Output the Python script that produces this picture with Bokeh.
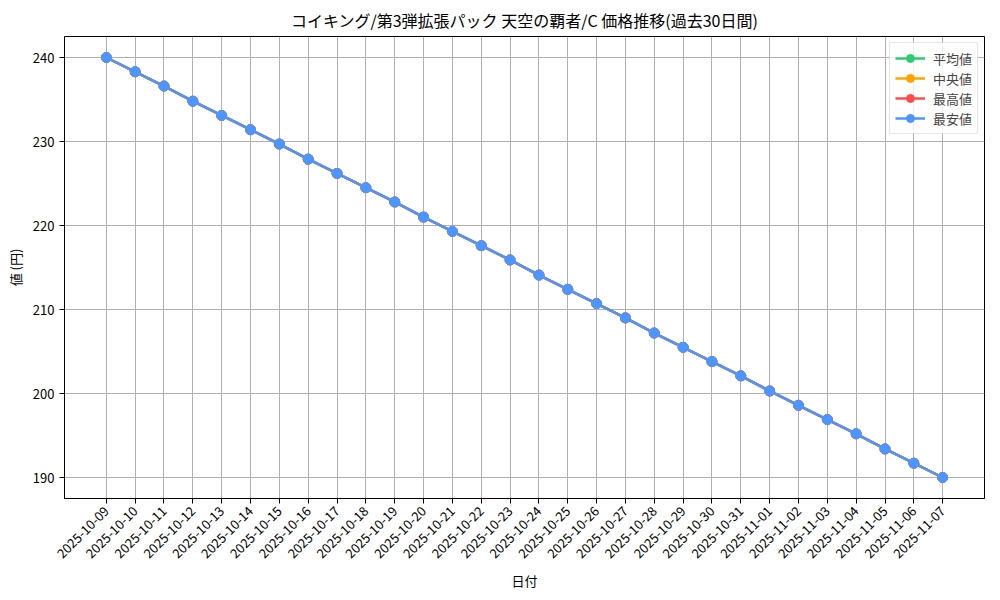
import math
from bokeh.plotting import figure
from bokeh.models import Range1d, FixedTicker, Legend, LegendItem
from bokeh.embed import file_html
from bokeh.resources import INLINE

dates = ["2025-10-09", "2025-10-10", "2025-10-11", "2025-10-12", "2025-10-13",
         "2025-10-14", "2025-10-15", "2025-10-16", "2025-10-17", "2025-10-18",
         "2025-10-19", "2025-10-20", "2025-10-21", "2025-10-22", "2025-10-23",
         "2025-10-24", "2025-10-25", "2025-10-26", "2025-10-27", "2025-10-28",
         "2025-10-29", "2025-10-30", "2025-10-31", "2025-11-01", "2025-11-02",
         "2025-11-03", "2025-11-04", "2025-11-05", "2025-11-06", "2025-11-07"]

avg_price = [240.0, 238.3, 236.6, 234.8, 233.1, 231.4, 229.7, 227.9, 226.2, 224.5,
             222.8, 221.0, 219.3, 217.6, 215.9, 214.1, 212.4, 210.7, 209.0, 207.2,
             205.5, 203.8, 202.1, 200.3, 198.6, 196.9, 195.2, 193.4, 191.7, 190.0]
median_price = [240.0, 238.3, 236.6, 234.8, 233.1, 231.4, 229.7, 227.9, 226.2, 224.5,
                222.8, 221.0, 219.3, 217.6, 215.9, 214.1, 212.4, 210.7, 209.0, 207.2,
                205.5, 203.8, 202.1, 200.3, 198.6, 196.9, 195.2, 193.4, 191.7, 190.0]
max_price = [240.0, 238.3, 236.6, 234.8, 233.1, 231.4, 229.7, 227.9, 226.2, 224.5,
             222.8, 221.0, 219.3, 217.6, 215.9, 214.1, 212.4, 210.7, 209.0, 207.2,
             205.5, 203.8, 202.1, 200.3, 198.6, 196.9, 195.2, 193.4, 191.7, 190.0]
min_price = [240.0, 238.3, 236.6, 234.8, 233.1, 231.4, 229.7, 227.9, 226.2, 224.5,
             222.8, 221.0, 219.3, 217.6, 215.9, 214.1, 212.4, 210.7, 209.0, 207.2,
             205.5, 203.8, 202.1, 200.3, 198.6, 196.9, 195.2, 193.4, 191.7, 190.0]

series_names = ["平均値", "中央値", "最高値", "最安値"]
series_colors = ["#2ecc71", "#ffa500", "#ff4d4d", "#4d96ff"]
series_values = [avg_price, median_price, max_price, min_price]

FONT = "Noto Sans CJK JP"
x = list(range(len(dates)))

p = figure(width=990, height=592, output_backend="svg", toolbar_location=None,
           x_range=Range1d(-1.45, len(dates) - 1 + 1.45),
           y_range=Range1d(187.5, 242.5),
           min_border_left=64, min_border_right=6, min_border_top=34,
           min_border_bottom=10)

p.title.text = "コイキング/第3弾拡張パック 天空の覇者/C 価格推移(過去30日間)"
p.title.align = "center"
p.title.text_font = FONT
p.title.text_font_style = "normal"
p.title.text_font_size = "16px"
p.title.text_color = "#000000"

p.xaxis.ticker = FixedTicker(ticks=x)
p.xaxis.major_label_overrides = {i: d for i, d in enumerate(dates)}
p.xaxis.major_label_orientation = math.pi / 4
p.yaxis.ticker = FixedTicker(ticks=[190, 200, 210, 220, 230, 240])

for ax in (p.xaxis, p.yaxis):
    ax.major_label_text_font = FONT
    ax.major_label_text_font_size = "13px"
    ax.major_label_text_color = "#000000"
    ax.axis_label_text_font = FONT
    ax.axis_label_text_font_size = "13px"
    ax.axis_label_text_font_style = "normal"
    ax.axis_label_text_color = "#000000"
    ax.axis_line_color = "#000000"
    ax.major_tick_line_color = "#000000"
    ax.major_tick_out = 5
    ax.major_tick_in = 0
    ax.minor_tick_line_color = None

p.xaxis.axis_label = "日付"
p.yaxis.axis_label = "値 (円)"

p.grid.grid_line_color = "#b0b0b0"
p.grid.grid_line_width = 1
p.outline_line_color = "#000000"
p.outline_line_width = 1

items = []
for name, color, vals in zip(series_names, series_colors, series_values):
    ln = p.line(x, vals, line_color=color, line_width=2.5)
    sc = p.scatter(x, vals, size=10, fill_color=color, line_color=color)
    items.append(LegendItem(label=name, renderers=[ln, sc]))

legend = Legend(items=items, location="top_right",
                label_text_font=FONT, label_text_font_size="13px",
                border_line_color="#cccccc", border_line_width=1,
                background_fill_alpha=0.8, spacing=0, padding=5,
                glyph_width=30, label_standoff=8, margin=6)
p.add_layout(legend)

open("out.html", "w").write(file_html(p, INLINE))
